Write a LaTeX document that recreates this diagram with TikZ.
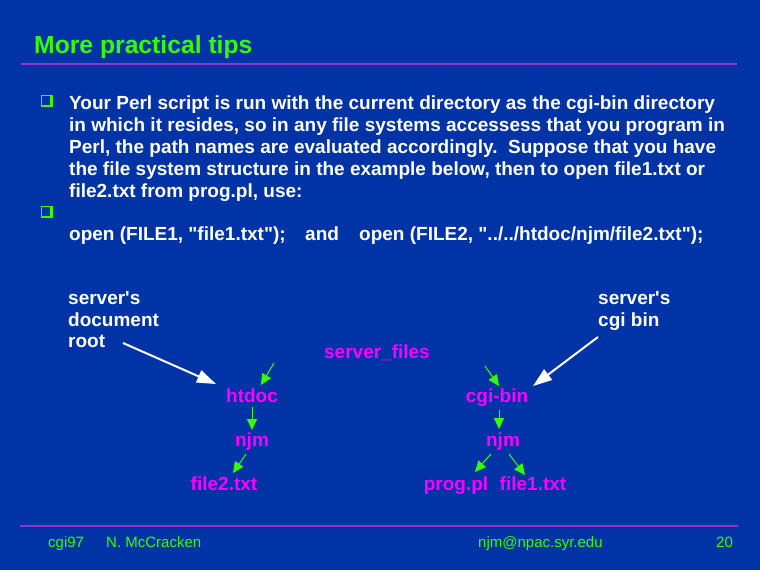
\documentclass[tikz,border=0pt]{standalone}
\usepackage{fontspec}
\setmainfont{Liberation Sans}[Ligatures=TeXOff]
\usetikzlibrary{arrows.meta,calc}
\definecolor{slidebg}{RGB}{0,51,166}
\definecolor{slidegreen}{RGB}{51,255,0}
\definecolor{slidemag}{RGB}{255,0,255}
\definecolor{slidepurple}{RGB}{153,51,204}
\tikzset{
  bodytext/.style={text=white,font=\fontsize{19}{22}\selectfont\bfseries,inner sep=0pt,anchor=base west},
  dirlabel/.style={text=slidemag,font=\fontsize{19}{22}\selectfont\bfseries,inner sep=0pt,anchor=base},
  foottext/.style={text=slidegreen,font=\fontsize{15}{18}\selectfont,inner sep=0pt,anchor=base west},
  rulel/.style={slidepurple,line width=2pt},
  garrow/.style={slidegreen,line width=1pt,-{Triangle[length=11pt,width=10pt]}},
  warrow/.style={white,line width=2pt,-{Triangle[length=19pt,width=13pt]}},
  qbox/.pic={
    \fill[slidegreen] (0,0) rectangle (12.2,12.6);
    \fill[slidebg] (1.6,1.5) rectangle (9.3,10.0);
  }
}
\begin{document}
\begin{tikzpicture}[x=1pt,y=-1pt]
\fill[slidebg] (0,0) rectangle (760,570);
\useasboundingbox (0,0) rectangle (760,570);

% title and rules
\node[text=slidegreen,font=\fontsize{24.7}{28}\selectfont\bfseries,inner sep=0pt,anchor=base west] (title) at (34,53) {More practical tips};
\draw[rulel] (21,64) -- (737,64);
\draw[rulel] (20,526) -- (738,526);

% bullets
\pic at (40.5,94.7) {qbox};
\pic at (40.5,205.7) {qbox};

% body text
\node[bodytext] (l1) at (69,109) {Your Perl script is run with the current directory as the cgi-bin directory};
\node[bodytext] (l2) at (69,131) {in which it resides, so in any file systems accessess that you program in};
\node[bodytext] (l3) at (69,153) {Perl, the path names are evaluated accordingly.\ \ Suppose that you have};
\node[bodytext] (l4) at (69,175) {the file system structure in the example below, then to open file1.txt or};
\node[bodytext] (l5) at (69,197) {file2.txt from prog.pl, use:};
\node[bodytext] (open1) at (69,240) {open (FILE1, "file1.txt");};
\node[bodytext] (and) at (305,240) {and};
\node[bodytext] (open2) at (359,240) {open (FILE2, "../../htdoc/njm/file2.txt");};

% side labels
\node[bodytext] (dr1) at (68,304) {server's};
\node[bodytext] (dr2) at (68,326) {document};
\node[bodytext] (dr3) at (68,347) {root};
\node[bodytext] (cb1) at (598,304) {server's};
\node[bodytext] (cb2) at (598,326) {cgi bin};

% directory tree
\node[dirlabel] (sf) at (377,358) {server\_files};
\node[dirlabel] (htdoc) at (252,402) {htdoc};
\node[dirlabel] (nL) at (252,446) {njm};
\node[dirlabel] (f2) at (224,490) {file2.txt};
\node[dirlabel] (cgibin) at (497,402) {cgi-bin};
\node[dirlabel] (nR) at (503,446) {njm};
\node[dirlabel] (prog) at (456,490) {prog.pl};
\node[dirlabel] (f1) at (533,490) {file1.txt};

\coordinate (s1) at (274,363);
\coordinate (s2) at (485,366);
\coordinate (w1) at (123,343);
\coordinate (w2) at (598,337);

\draw[garrow] (s1) -- ($(htdoc.base)+(9,-17)$);
\draw[garrow] ($(htdoc.base)+(0,5)$) -- ($(nL.base)+(0,-16)$);
\draw[garrow] ($(nL.base)+(-6,8)$) -- ($(f2.base)+(9,-17)$);
\draw[garrow] (s2) -- ($(cgibin.base)+(2,-16)$);
\draw[garrow] ($(cgibin.base)+(2,8)$) -- ($(nR.base)+(-4,-17)$);
\draw[garrow] ($(nR.base)+(-12,8)$) -- ($(prog.base)+(19,-18)$);
\draw[garrow] ($(nR.base)+(6,8)$) -- ($(f1.base)+(-8,-15)$);

\draw[warrow] (w1) -- ($(htdoc.base)+(-36,-18)$);
\draw[warrow] (w2) -- ($(cgibin.base)+(36,-16)$);

% footer
\node[foottext] (f-a) at (48,547) {cgi97};
\node[foottext] (f-b) at (106,547) {N. McCracken};
\node[foottext] (f-c) at (478,547) {njm@npac.syr.edu};
\node[foottext] (f-d) at (716,547) {20};
\end{tikzpicture}
\end{document}
